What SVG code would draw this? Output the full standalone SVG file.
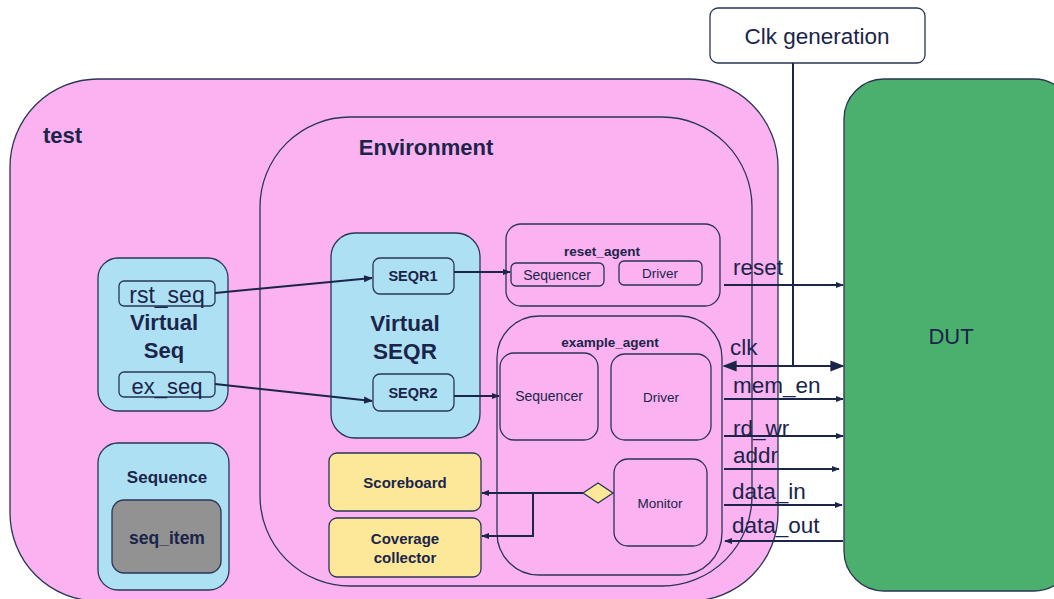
<svg xmlns="http://www.w3.org/2000/svg" width="1054" height="599" viewBox="0 0 1054 599">
<defs>
<style>
.st{stroke:#2a3556;stroke-width:1.3}
.pink{fill:#fab2f1}
.blue{fill:#aee0f4}
.yel{fill:#fde89a}
.t{font-family:"Liberation Sans",Arial,sans-serif;fill:#1b2449;text-anchor:middle}
.b{font-weight:bold}
.sig{font-family:"Liberation Sans",Arial,sans-serif;fill:#1b2449;font-size:22.5px}
.ln{stroke:#1b2449;stroke-width:2;fill:none}
</style>
<marker id="ah" viewBox="0 0 10 10" refX="9" refY="5" markerWidth="8" markerHeight="8" orient="auto-start-reverse" markerUnits="userSpaceOnUse"><path d="M0,1 L10,5 L0,9 z" fill="#1b2449"/></marker>
<marker id="ah2" viewBox="0 0 10 10" refX="9" refY="5" markerWidth="9" markerHeight="9" orient="auto-start-reverse" markerUnits="userSpaceOnUse"><path d="M0,1 L10,5 L0,9 z" fill="#1b2449"/></marker>
<marker id="ah3" viewBox="0 0 10 10" refX="9" refY="5" markerWidth="14" markerHeight="14" orient="auto-start-reverse" markerUnits="userSpaceOnUse"><path d="M0,1 L10,5 L0,9 z" fill="#1b2449"/></marker>
</defs>
<rect width="1054" height="599" fill="#ffffff"/>
<g id="test"><rect x="10" y="79" width="768" height="522" rx="88" class="pink st"/><text x="43" y="143" class="t b" font-size="22" style="text-anchor:start">test</text></g>
<g id="environment"><rect x="260" y="117" width="492" height="469" rx="90" class="pink st"/><text x="426" y="155" class="t b" font-size="22">Environment</text></g>
<g id="virtual_seq"><rect x="98" y="258" width="130" height="153" rx="20" class="blue st"/>
<rect x="119" y="281" width="96" height="25" rx="5" class="blue st"/><text x="167" y="303" class="t" font-size="23">rst_seq</text>
<text x="164" y="330" class="t b" font-size="22">Virtual</text><text x="164" y="358" class="t b" font-size="22">Seq</text>
<rect x="119" y="372" width="96" height="25" rx="5" class="blue st"/><text x="167" y="394" class="t" font-size="22">ex_seq</text></g>
<g id="sequence"><rect x="98" y="443" width="131" height="147" rx="20" class="blue st"/><text x="167" y="483" class="t b" font-size="17">Sequence</text>
<rect x="112" y="500" width="109" height="73" rx="12" fill="#929292" class="st"/><text x="167" y="544" class="t b" font-size="17.5">seq_item</text></g>
<g id="virtual_seqr"><rect x="331" y="233" width="149" height="205" rx="24" class="blue st"/>
<rect x="373" y="258" width="81" height="36" rx="7" class="blue st"/><text x="413" y="281" class="t b" font-size="14.5">SEQR1</text>
<text x="405" y="331" class="t b" font-size="22.5">Virtual</text><text x="405" y="359" class="t b" font-size="22.5">SEQR</text>
<rect x="373" y="374" width="81" height="37" rx="7" class="blue st"/><text x="413" y="398" class="t b" font-size="14.5">SEQR2</text></g>
<g id="reset_agent"><rect x="506" y="224" width="214" height="82" rx="15" class="pink st"/><text x="602" y="256" class="t b" font-size="13.5">reset_agent</text>
<rect x="511" y="263" width="93" height="23" rx="5" class="pink st"/><text x="557" y="280" class="t" font-size="14">Sequencer</text>
<rect x="619" y="261" width="83" height="24" rx="5" class="pink st"/><text x="660" y="278" class="t" font-size="13.5">Driver</text></g>
<g id="example_agent"><rect x="497" y="316" width="225" height="259" rx="42" class="pink st"/><text x="610" y="347" class="t b" font-size="13.5">example_agent</text>
<rect x="500" y="353" width="98" height="87" rx="14" class="pink st"/><text x="549" y="401" class="t" font-size="14">Sequencer</text>
<rect x="611" y="354" width="100" height="86" rx="14" class="pink st"/><text x="661" y="402" class="t" font-size="13.5">Driver</text>
<rect x="614" y="459" width="93" height="87" rx="14" class="pink st"/><text x="660" y="508" class="t" font-size="13.5">Monitor</text>
<polygon points="583,493 598,483 613,493 598,503" class="yel st"/></g>
<g id="scoreboard"><rect x="329" y="453" width="152" height="58" rx="8" class="yel st"/><text x="405" y="488" class="t b" font-size="15">Scoreboard</text></g>
<g id="coverage"><rect x="329" y="518" width="152" height="59" rx="8" class="yel st"/><text x="405" y="544" class="t b" font-size="15">Coverage</text><text x="405" y="563" class="t b" font-size="15">collector</text></g>
<g id="clk_gen"><rect x="710" y="8" width="215" height="55" rx="8" fill="#ffffff" class="st"/><text x="817" y="44" class="t" font-size="22.5">Clk generation</text></g>
<g id="dut"><rect x="844" y="79" width="230" height="512" rx="40" fill="#4bb06d" class="st"/><text x="951" y="344" class="t" font-size="22">DUT</text></g>
<g id="connectors">
<line x1="215" y1="293" x2="372" y2="278" class="ln" marker-end="url(#ah2)"/>
<line x1="215" y1="384" x2="372" y2="401" class="ln" marker-end="url(#ah2)"/>
<line x1="454" y1="272" x2="510" y2="272" class="ln" marker-end="url(#ah)"/>
<line x1="454" y1="396" x2="499" y2="396" class="ln" marker-end="url(#ah)"/>
<line x1="583" y1="493" x2="482" y2="493" class="ln" marker-end="url(#ah)"/>
<polyline points="533,493 533,536 482,536" class="ln" marker-end="url(#ah)"/>
<line x1="793" y1="63" x2="793" y2="366" class="ln"/>
<line x1="724" y1="285" x2="843" y2="285" class="ln" marker-end="url(#ah)"/>
<line x1="724" y1="366" x2="843" y2="366" class="ln" marker-start="url(#ah3)" marker-end="url(#ah3)"/>
<line x1="724" y1="399" x2="843" y2="399" class="ln" marker-end="url(#ah)"/>
<line x1="724" y1="436" x2="843" y2="436" class="ln" marker-end="url(#ah)"/>
<line x1="724" y1="469" x2="839" y2="469" class="ln" marker-end="url(#ah)"/>
<line x1="724" y1="505" x2="842" y2="505" class="ln" marker-end="url(#ah)"/>
<line x1="843" y1="541" x2="725" y2="541" class="ln" marker-end="url(#ah)"/>
<text x="733" y="275" class="sig">reset</text>
<text x="730" y="355" class="sig">clk</text>
<text x="733" y="393" class="sig">mem_en</text>
<text x="733" y="436" class="sig">rd_wr</text>
<text x="733" y="463" class="sig">addr</text>
<text x="732" y="499" class="sig">data_in</text>
<text x="732" y="533" class="sig">data_out</text>
</g>
</svg>
